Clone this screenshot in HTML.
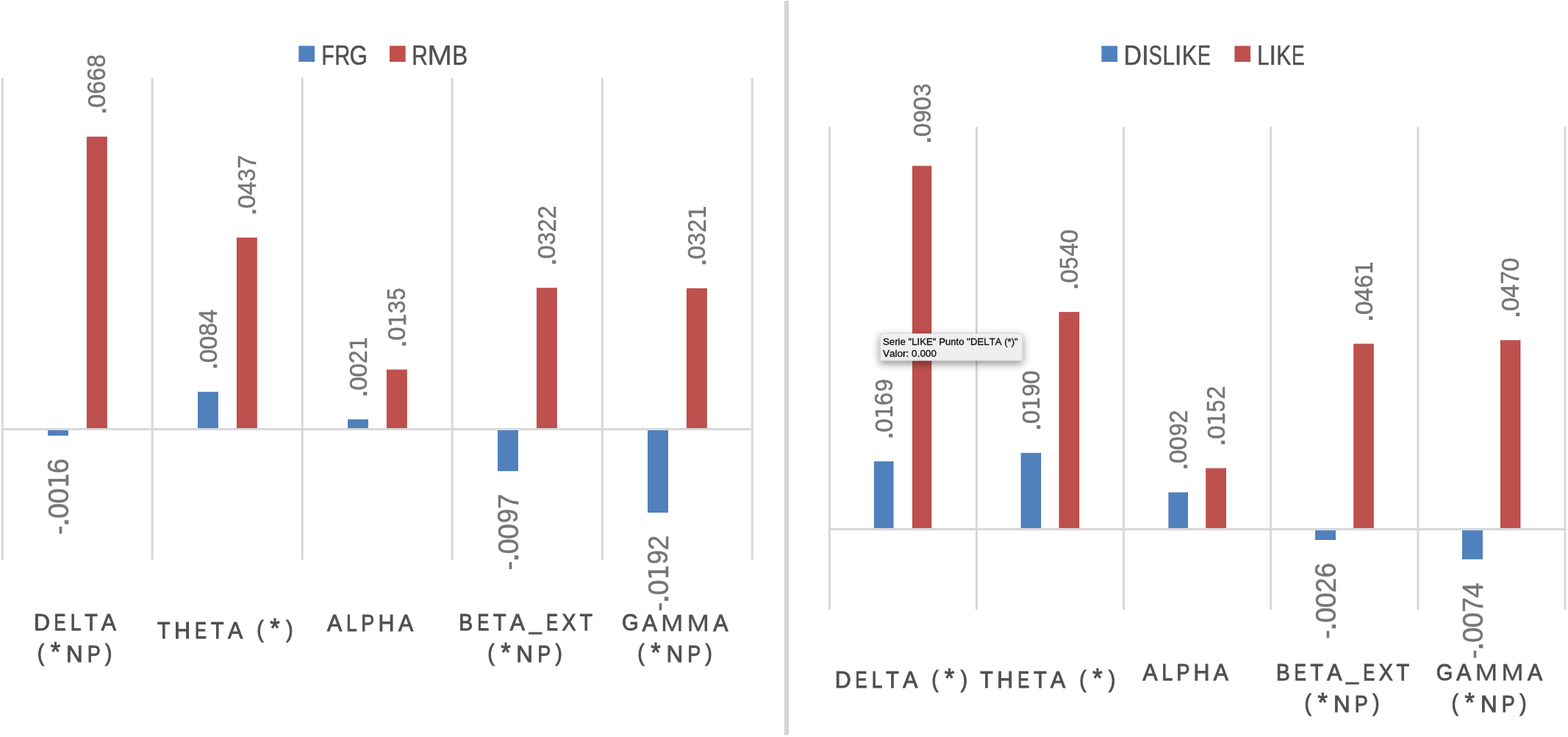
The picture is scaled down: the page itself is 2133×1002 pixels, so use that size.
<!DOCTYPE html><html><head><meta charset="utf-8"><title>Chart</title><style>html,body{margin:0;padding:0;background:#fff;overflow:hidden}svg{display:block}text{font-family:"Liberation Sans",Arial,sans-serif;white-space:pre;font-kerning:none;font-feature-settings:"kern" 0}</style></head><body>
<svg width="2133" height="1002" viewBox="0 0 2133 1002">
<rect x="0" y="0" width="2133" height="1002" fill="#fff"/>
<rect x="1.7" y="106" width="3" height="655" fill="#d8d8d8"/>
<rect x="205.7" y="106" width="3" height="655" fill="#d8d8d8"/>
<rect x="409.7" y="106" width="3" height="655" fill="#d8d8d8"/>
<rect x="613.7" y="106" width="3" height="655" fill="#d8d8d8"/>
<rect x="817.7" y="106" width="3" height="655" fill="#d8d8d8"/>
<rect x="1021.7" y="106" width="3" height="655" fill="#d8d8d8"/>
<rect x="65" y="582.63" width="27.6" height="9.51" fill="#5081bc"/>
<rect x="91.6" y="582.63" width="1" height="9.51" fill="#4574b3"/>
<rect x="65" y="591.14" width="27.6" height="1" fill="#4574b3"/>
<rect x="117.9" y="185.78" width="27.6" height="396.85" fill="#be504d"/>
<rect x="144.5" y="185.78" width="1" height="396.85" fill="#b4423f"/>
<rect x="117.9" y="581.63" width="27.6" height="1" fill="#b4423f"/>
<rect x="269" y="532.73" width="27.6" height="49.9" fill="#5081bc"/>
<rect x="295.6" y="532.73" width="1" height="49.9" fill="#4574b3"/>
<rect x="269" y="581.63" width="27.6" height="1" fill="#4574b3"/>
<rect x="321.9" y="323.01" width="27.6" height="259.62" fill="#be504d"/>
<rect x="348.5" y="323.01" width="1" height="259.62" fill="#b4423f"/>
<rect x="321.9" y="581.63" width="27.6" height="1" fill="#b4423f"/>
<rect x="473" y="570.15" width="27.6" height="12.48" fill="#5081bc"/>
<rect x="499.6" y="570.15" width="1" height="12.48" fill="#4574b3"/>
<rect x="473" y="581.63" width="27.6" height="1" fill="#4574b3"/>
<rect x="525.9" y="502.43" width="27.6" height="80.2" fill="#be504d"/>
<rect x="552.5" y="502.43" width="1" height="80.2" fill="#b4423f"/>
<rect x="525.9" y="581.63" width="27.6" height="1" fill="#b4423f"/>
<rect x="677" y="582.63" width="27.6" height="57.63" fill="#5081bc"/>
<rect x="703.6" y="582.63" width="1" height="57.63" fill="#4574b3"/>
<rect x="677" y="639.26" width="27.6" height="1" fill="#4574b3"/>
<rect x="729.9" y="391.33" width="27.6" height="191.3" fill="#be504d"/>
<rect x="756.5" y="391.33" width="1" height="191.3" fill="#b4423f"/>
<rect x="729.9" y="581.63" width="27.6" height="1" fill="#b4423f"/>
<rect x="881" y="582.63" width="27.6" height="114.07" fill="#5081bc"/>
<rect x="907.6" y="582.63" width="1" height="114.07" fill="#4574b3"/>
<rect x="881" y="695.7" width="27.6" height="1" fill="#4574b3"/>
<rect x="933.9" y="391.93" width="27.6" height="190.7" fill="#be504d"/>
<rect x="960.5" y="391.93" width="1" height="190.7" fill="#b4423f"/>
<rect x="933.9" y="581.63" width="27.6" height="1" fill="#b4423f"/>
<rect x="1.7" y="582" width="1023" height="3" fill="#d8d8d8"/>
<text transform="translate(92.67,725.52) rotate(-90)" font-size="38.54" fill="#767676" stroke="#767676" stroke-width="0.5"><tspan x="-1.53" y="0.21" font-size="38.49" textLength="12.39" lengthAdjust="spacingAndGlyphs">-</tspan><tspan x="9.14" y="0.32" font-size="46.81" textLength="13.35" lengthAdjust="spacingAndGlyphs">.</tspan><tspan x="20.57" y="-0.09" font-size="38.28" textLength="20.89" lengthAdjust="spacingAndGlyphs">0</tspan><tspan x="40.85" y="-0.09" font-size="38.28" textLength="20.89" lengthAdjust="spacingAndGlyphs">0</tspan><tspan x="61.27" y="0" font-size="36.49" font-family="DejaVu Sans, sans-serif" textLength="21.65" lengthAdjust="spacingAndGlyphs">1</tspan><tspan x="81.77" y="-0.09" font-size="39.85" textLength="20.30" lengthAdjust="spacingAndGlyphs">6</tspan></text>
<text transform="translate(143.51,152.78) rotate(-90)" font-size="34.3" fill="#767676" stroke="#767676" stroke-width="0.5"><tspan x="-3.75" y="0.29" font-size="41.66" textLength="11.80" lengthAdjust="spacingAndGlyphs">.</tspan><tspan x="6.4" y="-0.08" font-size="34.07" textLength="18.56" lengthAdjust="spacingAndGlyphs">0</tspan><tspan x="24.78" y="-0.08" font-size="35.47" textLength="18.03" lengthAdjust="spacingAndGlyphs">6</tspan><tspan x="42.82" y="-0.08" font-size="35.47" textLength="18.03" lengthAdjust="spacingAndGlyphs">6</tspan><tspan x="60.95" y="-0.08" font-size="35.87" textLength="17.71" lengthAdjust="spacingAndGlyphs">8</tspan></text>
<text transform="translate(294.61,499.73) rotate(-90)" font-size="34.3" fill="#767676" stroke="#767676" stroke-width="0.5"><tspan x="-3.75" y="0.29" font-size="41.66" textLength="11.80" lengthAdjust="spacingAndGlyphs">.</tspan><tspan x="6.4" y="-0.08" font-size="34.07" textLength="18.56" lengthAdjust="spacingAndGlyphs">0</tspan><tspan x="24.44" y="-0.08" font-size="34.07" textLength="18.56" lengthAdjust="spacingAndGlyphs">0</tspan><tspan x="42.91" y="-0.08" font-size="35.87" textLength="17.71" lengthAdjust="spacingAndGlyphs">8</tspan><tspan x="60.77" y="0" textLength="18.31" lengthAdjust="spacingAndGlyphs">4</tspan></text>
<text transform="translate(347.51,290.01) rotate(-90)" font-size="34.3" fill="#767676" stroke="#767676" stroke-width="0.5"><tspan x="-3.75" y="0.29" font-size="41.66" textLength="11.80" lengthAdjust="spacingAndGlyphs">.</tspan><tspan x="6.4" y="-0.08" font-size="34.07" textLength="18.56" lengthAdjust="spacingAndGlyphs">0</tspan><tspan x="24.68" y="0" textLength="18.31" lengthAdjust="spacingAndGlyphs">4</tspan><tspan x="43.33" y="-0.08" font-size="34.07" textLength="17.34" lengthAdjust="spacingAndGlyphs">3</tspan><tspan x="60.93" y="0" textLength="18.28" lengthAdjust="spacingAndGlyphs">7</tspan></text>
<text transform="translate(498.61,537.15) rotate(-90)" font-size="34.3" fill="#767676" stroke="#767676" stroke-width="0.5"><tspan x="-3.75" y="0.29" font-size="41.66" textLength="11.80" lengthAdjust="spacingAndGlyphs">.</tspan><tspan x="6.4" y="-0.08" font-size="34.07" textLength="18.56" lengthAdjust="spacingAndGlyphs">0</tspan><tspan x="24.44" y="-0.08" font-size="34.07" textLength="18.56" lengthAdjust="spacingAndGlyphs">0</tspan><tspan x="42.85" y="0" font-size="34.19" textLength="17.92" lengthAdjust="spacingAndGlyphs">2</tspan><tspan x="60.67" y="0" font-size="32.47" font-family="DejaVu Sans, sans-serif" textLength="19.23" lengthAdjust="spacingAndGlyphs">1</tspan></text>
<text transform="translate(551.51,469.43) rotate(-90)" font-size="34.3" fill="#767676" stroke="#767676" stroke-width="0.5"><tspan x="-3.75" y="0.29" font-size="41.66" textLength="11.80" lengthAdjust="spacingAndGlyphs">.</tspan><tspan x="6.4" y="-0.08" font-size="34.07" textLength="18.56" lengthAdjust="spacingAndGlyphs">0</tspan><tspan x="24.58" y="0" font-size="32.47" font-family="DejaVu Sans, sans-serif" textLength="19.23" lengthAdjust="spacingAndGlyphs">1</tspan><tspan x="43.33" y="-0.08" font-size="34.07" textLength="17.34" lengthAdjust="spacingAndGlyphs">3</tspan><tspan x="61.34" y="-0.08" font-size="34.19" textLength="16.51" lengthAdjust="spacingAndGlyphs">5</tspan></text>
<text transform="translate(704.67,773.74) rotate(-90)" font-size="38.54" fill="#767676" stroke="#767676" stroke-width="0.5"><tspan x="-1.53" y="0.21" font-size="38.49" textLength="12.39" lengthAdjust="spacingAndGlyphs">-</tspan><tspan x="9.14" y="0.32" font-size="46.81" textLength="13.35" lengthAdjust="spacingAndGlyphs">.</tspan><tspan x="20.57" y="-0.09" font-size="38.28" textLength="20.89" lengthAdjust="spacingAndGlyphs">0</tspan><tspan x="40.85" y="-0.09" font-size="38.28" textLength="20.89" lengthAdjust="spacingAndGlyphs">0</tspan><tspan x="62.48" y="-0.37" font-size="37.88" textLength="19.38" lengthAdjust="spacingAndGlyphs">9</tspan><tspan x="81.84" y="0" textLength="20.58" lengthAdjust="spacingAndGlyphs">7</tspan></text>
<text transform="translate(755.51,358.33) rotate(-90)" font-size="34.3" fill="#767676" stroke="#767676" stroke-width="0.5"><tspan x="-3.75" y="0.29" font-size="41.66" textLength="11.80" lengthAdjust="spacingAndGlyphs">.</tspan><tspan x="6.4" y="-0.08" font-size="34.07" textLength="18.56" lengthAdjust="spacingAndGlyphs">0</tspan><tspan x="25.29" y="-0.08" font-size="34.07" textLength="17.34" lengthAdjust="spacingAndGlyphs">3</tspan><tspan x="42.85" y="0" font-size="34.19" textLength="17.92" lengthAdjust="spacingAndGlyphs">2</tspan><tspan x="60.89" y="0" font-size="34.19" textLength="17.92" lengthAdjust="spacingAndGlyphs">2</tspan></text>
<text transform="translate(908.67,829.77) rotate(-90)" font-size="38.54" fill="#767676" stroke="#767676" stroke-width="0.5"><tspan x="-1.53" y="0.21" font-size="38.49" textLength="12.39" lengthAdjust="spacingAndGlyphs">-</tspan><tspan x="9.14" y="0.32" font-size="46.81" textLength="13.35" lengthAdjust="spacingAndGlyphs">.</tspan><tspan x="20.57" y="-0.09" font-size="38.28" textLength="20.89" lengthAdjust="spacingAndGlyphs">0</tspan><tspan x="41" y="0" font-size="36.49" font-family="DejaVu Sans, sans-serif" textLength="21.65" lengthAdjust="spacingAndGlyphs">1</tspan><tspan x="62.48" y="-0.37" font-size="37.88" textLength="19.38" lengthAdjust="spacingAndGlyphs">9</tspan><tspan x="81.8" y="0" font-size="38.41" textLength="20.18" lengthAdjust="spacingAndGlyphs">2</tspan></text>
<text transform="translate(959.51,358.93) rotate(-90)" font-size="34.3" fill="#767676" stroke="#767676" stroke-width="0.5"><tspan x="-3.75" y="0.29" font-size="41.66" textLength="11.80" lengthAdjust="spacingAndGlyphs">.</tspan><tspan x="6.4" y="-0.08" font-size="34.07" textLength="18.56" lengthAdjust="spacingAndGlyphs">0</tspan><tspan x="25.29" y="-0.08" font-size="34.07" textLength="17.34" lengthAdjust="spacingAndGlyphs">3</tspan><tspan x="42.85" y="0" font-size="34.19" textLength="17.92" lengthAdjust="spacingAndGlyphs">2</tspan><tspan x="60.67" y="0" font-size="32.47" font-family="DejaVu Sans, sans-serif" textLength="19.23" lengthAdjust="spacingAndGlyphs">1</tspan></text>
<rect x="1126.9" y="172.3" width="3" height="656.7" fill="#d8d8d8"/>
<rect x="1327.02" y="172.3" width="3" height="656.7" fill="#d8d8d8"/>
<rect x="1527.14" y="172.3" width="3" height="656.7" fill="#d8d8d8"/>
<rect x="1727.26" y="172.3" width="3" height="656.7" fill="#d8d8d8"/>
<rect x="1927.38" y="172.3" width="3" height="656.7" fill="#d8d8d8"/>
<rect x="2127.5" y="172.3" width="3" height="656.7" fill="#d8d8d8"/>
<rect x="1188.9" y="627.2" width="26.4" height="92.5" fill="#5081bc"/>
<rect x="1214.3" y="627.2" width="1" height="92.5" fill="#4574b3"/>
<rect x="1188.9" y="718.7" width="26.4" height="1" fill="#4574b3"/>
<rect x="1240.95" y="225.46" width="26.15" height="494.24" fill="#be504d"/>
<rect x="1266.1" y="225.46" width="1" height="494.24" fill="#b4423f"/>
<rect x="1240.95" y="718.7" width="26.15" height="1" fill="#b4423f"/>
<rect x="1388.7" y="615.71" width="27.4" height="103.99" fill="#5081bc"/>
<rect x="1415.1" y="615.71" width="1" height="103.99" fill="#4574b3"/>
<rect x="1388.7" y="718.7" width="27.4" height="1" fill="#4574b3"/>
<rect x="1440.5" y="424.14" width="27.6" height="295.56" fill="#be504d"/>
<rect x="1467.1" y="424.14" width="1" height="295.56" fill="#b4423f"/>
<rect x="1440.5" y="718.7" width="27.6" height="1" fill="#b4423f"/>
<rect x="1589.4" y="669.35" width="26.6" height="50.35" fill="#5081bc"/>
<rect x="1615" y="669.35" width="1" height="50.35" fill="#4574b3"/>
<rect x="1589.4" y="718.7" width="26.6" height="1" fill="#4574b3"/>
<rect x="1640.2" y="636.51" width="27.6" height="83.19" fill="#be504d"/>
<rect x="1666.8" y="636.51" width="1" height="83.19" fill="#b4423f"/>
<rect x="1640.2" y="718.7" width="27.6" height="1" fill="#b4423f"/>
<rect x="1789.1" y="719.7" width="27.7" height="14.23" fill="#5081bc"/>
<rect x="1815.8" y="719.7" width="1" height="14.23" fill="#4574b3"/>
<rect x="1789.1" y="732.93" width="27.7" height="1" fill="#4574b3"/>
<rect x="1841.2" y="467.38" width="27.3" height="252.32" fill="#be504d"/>
<rect x="1867.5" y="467.38" width="1" height="252.32" fill="#b4423f"/>
<rect x="1841.2" y="718.7" width="27.3" height="1" fill="#b4423f"/>
<rect x="1989" y="719.7" width="27.7" height="40.5" fill="#5081bc"/>
<rect x="2015.7" y="719.7" width="1" height="40.5" fill="#4574b3"/>
<rect x="1989" y="759.2" width="27.7" height="1" fill="#4574b3"/>
<rect x="2040.9" y="462.45" width="27.3" height="257.25" fill="#be504d"/>
<rect x="2067.2" y="462.45" width="1" height="257.25" fill="#b4423f"/>
<rect x="2040.9" y="718.7" width="27.3" height="1" fill="#b4423f"/>
<rect x="1126.9" y="717.9" width="1003.6" height="3.2" fill="#d8d8d8"/>
<text transform="translate(1213.91,594.2) rotate(-90)" font-size="34.3" fill="#767676" stroke="#767676" stroke-width="0.5"><tspan x="-3.75" y="0.29" font-size="41.66" textLength="11.80" lengthAdjust="spacingAndGlyphs">.</tspan><tspan x="6.4" y="-0.08" font-size="34.07" textLength="18.56" lengthAdjust="spacingAndGlyphs">0</tspan><tspan x="24.58" y="0" font-size="32.47" font-family="DejaVu Sans, sans-serif" textLength="19.23" lengthAdjust="spacingAndGlyphs">1</tspan><tspan x="42.82" y="-0.08" font-size="35.47" textLength="18.03" lengthAdjust="spacingAndGlyphs">6</tspan><tspan x="61.74" y="-0.33" font-size="33.72" textLength="17.22" lengthAdjust="spacingAndGlyphs">9</tspan></text>
<text transform="translate(1265.83,192.46) rotate(-90)" font-size="34.3" fill="#767676" stroke="#767676" stroke-width="0.5"><tspan x="-3.75" y="0.29" font-size="41.66" textLength="11.80" lengthAdjust="spacingAndGlyphs">.</tspan><tspan x="6.4" y="-0.08" font-size="34.07" textLength="18.56" lengthAdjust="spacingAndGlyphs">0</tspan><tspan x="25.65" y="-0.33" font-size="33.72" textLength="17.22" lengthAdjust="spacingAndGlyphs">9</tspan><tspan x="42.49" y="-0.08" font-size="34.07" textLength="18.56" lengthAdjust="spacingAndGlyphs">0</tspan><tspan x="61.38" y="-0.08" font-size="34.07" textLength="17.34" lengthAdjust="spacingAndGlyphs">3</tspan></text>
<text transform="translate(1414.21,582.71) rotate(-90)" font-size="34.3" fill="#767676" stroke="#767676" stroke-width="0.5"><tspan x="-3.75" y="0.29" font-size="41.66" textLength="11.80" lengthAdjust="spacingAndGlyphs">.</tspan><tspan x="6.4" y="-0.08" font-size="34.07" textLength="18.56" lengthAdjust="spacingAndGlyphs">0</tspan><tspan x="24.58" y="0" font-size="32.47" font-family="DejaVu Sans, sans-serif" textLength="19.23" lengthAdjust="spacingAndGlyphs">1</tspan><tspan x="43.7" y="-0.33" font-size="33.72" textLength="17.22" lengthAdjust="spacingAndGlyphs">9</tspan><tspan x="60.53" y="-0.08" font-size="34.07" textLength="18.56" lengthAdjust="spacingAndGlyphs">0</tspan></text>
<text transform="translate(1466.11,391.14) rotate(-90)" font-size="34.3" fill="#767676" stroke="#767676" stroke-width="0.5"><tspan x="-3.75" y="0.29" font-size="41.66" textLength="11.80" lengthAdjust="spacingAndGlyphs">.</tspan><tspan x="6.4" y="-0.08" font-size="34.07" textLength="18.56" lengthAdjust="spacingAndGlyphs">0</tspan><tspan x="25.25" y="-0.08" font-size="34.19" textLength="16.51" lengthAdjust="spacingAndGlyphs">5</tspan><tspan x="42.72" y="0" textLength="18.31" lengthAdjust="spacingAndGlyphs">4</tspan><tspan x="60.53" y="-0.08" font-size="34.07" textLength="18.56" lengthAdjust="spacingAndGlyphs">0</tspan></text>
<text transform="translate(1614.51,636.35) rotate(-90)" font-size="34.3" fill="#767676" stroke="#767676" stroke-width="0.5"><tspan x="-3.75" y="0.29" font-size="41.66" textLength="11.80" lengthAdjust="spacingAndGlyphs">.</tspan><tspan x="6.4" y="-0.08" font-size="34.07" textLength="18.56" lengthAdjust="spacingAndGlyphs">0</tspan><tspan x="24.44" y="-0.08" font-size="34.07" textLength="18.56" lengthAdjust="spacingAndGlyphs">0</tspan><tspan x="43.7" y="-0.33" font-size="33.72" textLength="17.22" lengthAdjust="spacingAndGlyphs">9</tspan><tspan x="60.89" y="0" font-size="34.19" textLength="17.92" lengthAdjust="spacingAndGlyphs">2</tspan></text>
<text transform="translate(1665.81,603.51) rotate(-90)" font-size="34.3" fill="#767676" stroke="#767676" stroke-width="0.5"><tspan x="-3.75" y="0.29" font-size="41.66" textLength="11.80" lengthAdjust="spacingAndGlyphs">.</tspan><tspan x="6.4" y="-0.08" font-size="34.07" textLength="18.56" lengthAdjust="spacingAndGlyphs">0</tspan><tspan x="24.58" y="0" font-size="32.47" font-family="DejaVu Sans, sans-serif" textLength="19.23" lengthAdjust="spacingAndGlyphs">1</tspan><tspan x="43.3" y="-0.08" font-size="34.19" textLength="16.51" lengthAdjust="spacingAndGlyphs">5</tspan><tspan x="60.89" y="0" font-size="34.19" textLength="17.92" lengthAdjust="spacingAndGlyphs">2</tspan></text>
<text transform="translate(1816.82,867.32) rotate(-90)" font-size="38.54" fill="#767676" stroke="#767676" stroke-width="0.5"><tspan x="-1.53" y="0.21" font-size="38.49" textLength="12.39" lengthAdjust="spacingAndGlyphs">-</tspan><tspan x="9.14" y="0.32" font-size="46.81" textLength="13.35" lengthAdjust="spacingAndGlyphs">.</tspan><tspan x="20.57" y="-0.09" font-size="38.28" textLength="20.89" lengthAdjust="spacingAndGlyphs">0</tspan><tspan x="40.85" y="-0.09" font-size="38.28" textLength="20.89" lengthAdjust="spacingAndGlyphs">0</tspan><tspan x="61.52" y="0" font-size="38.41" textLength="20.18" lengthAdjust="spacingAndGlyphs">2</tspan><tspan x="81.77" y="-0.09" font-size="39.85" textLength="20.30" lengthAdjust="spacingAndGlyphs">6</tspan></text>
<text transform="translate(1866.66,434.38) rotate(-90)" font-size="34.3" fill="#767676" stroke="#767676" stroke-width="0.5"><tspan x="-3.75" y="0.29" font-size="41.66" textLength="11.80" lengthAdjust="spacingAndGlyphs">.</tspan><tspan x="6.4" y="-0.08" font-size="34.07" textLength="18.56" lengthAdjust="spacingAndGlyphs">0</tspan><tspan x="24.68" y="0" textLength="18.31" lengthAdjust="spacingAndGlyphs">4</tspan><tspan x="42.82" y="-0.08" font-size="35.47" textLength="18.03" lengthAdjust="spacingAndGlyphs">6</tspan><tspan x="60.67" y="0" font-size="32.47" font-family="DejaVu Sans, sans-serif" textLength="19.23" lengthAdjust="spacingAndGlyphs">1</tspan></text>
<text transform="translate(2016.72,894.31) rotate(-90)" font-size="38.54" fill="#767676" stroke="#767676" stroke-width="0.5"><tspan x="-1.53" y="0.21" font-size="38.49" textLength="12.39" lengthAdjust="spacingAndGlyphs">-</tspan><tspan x="9.14" y="0.32" font-size="46.81" textLength="13.35" lengthAdjust="spacingAndGlyphs">.</tspan><tspan x="20.57" y="-0.09" font-size="38.28" textLength="20.89" lengthAdjust="spacingAndGlyphs">0</tspan><tspan x="40.85" y="-0.09" font-size="38.28" textLength="20.89" lengthAdjust="spacingAndGlyphs">0</tspan><tspan x="61.57" y="0" textLength="20.58" lengthAdjust="spacingAndGlyphs">7</tspan><tspan x="81.66" y="0" textLength="20.61" lengthAdjust="spacingAndGlyphs">4</tspan></text>
<text transform="translate(2066.36,429.45) rotate(-90)" font-size="34.3" fill="#767676" stroke="#767676" stroke-width="0.5"><tspan x="-3.75" y="0.29" font-size="41.66" textLength="11.80" lengthAdjust="spacingAndGlyphs">.</tspan><tspan x="6.4" y="-0.08" font-size="34.07" textLength="18.56" lengthAdjust="spacingAndGlyphs">0</tspan><tspan x="24.68" y="0" textLength="18.31" lengthAdjust="spacingAndGlyphs">4</tspan><tspan x="42.89" y="0" textLength="18.28" lengthAdjust="spacingAndGlyphs">7</tspan><tspan x="60.53" y="-0.08" font-size="34.07" textLength="18.56" lengthAdjust="spacingAndGlyphs">0</tspan></text>
<rect x="1066.8" y="1" width="6.3" height="998.3" fill="#d6d6d6"/>
<rect x="406.3" y="62.3" width="21.7" height="21.7" fill="#5081bc"/>
<rect x="530.0" y="62.3" width="21.7" height="21.7" fill="#be504d"/>
<rect x="1498.4" y="62.4" width="21.7" height="21.7" fill="#5081bc"/>
<rect x="1679.4" y="62.4" width="21.7" height="21.7" fill="#be504d"/>
<text font-size="36.4" fill="#505050" stroke="#505050" stroke-width="0.5"><tspan x="437.42" y="88" textLength="17.17" lengthAdjust="spacingAndGlyphs">F</tspan><tspan x="455.2" y="88" textLength="21.08" lengthAdjust="spacingAndGlyphs">R</tspan><tspan x="475.6" y="87.91" font-size="36.15" textLength="24.53" lengthAdjust="spacingAndGlyphs">G</tspan></text>
<text font-size="36.4" fill="#505050" stroke="#505050" stroke-width="0.5"><tspan x="560.27" y="88" textLength="21.64" lengthAdjust="spacingAndGlyphs">R</tspan><tspan x="581.24" y="88" stroke-width="0.3" textLength="33.73" lengthAdjust="spacingAndGlyphs">M</tspan><tspan x="615.32" y="88" textLength="21.01" lengthAdjust="spacingAndGlyphs">B</tspan></text>
<text font-size="36.4" fill="#505050" stroke="#505050" stroke-width="0.5"><tspan x="1528.54" y="88.1" textLength="24.54" lengthAdjust="spacingAndGlyphs">D</tspan><tspan x="1553.01" y="88.1" textLength="9.75" lengthAdjust="spacingAndGlyphs">I</tspan><tspan x="1562.84" y="88.01" font-size="36.15" textLength="17.96" lengthAdjust="spacingAndGlyphs">S</tspan><tspan x="1581.44" y="88.1" textLength="16.50" lengthAdjust="spacingAndGlyphs">L</tspan><tspan x="1597.86" y="88.1" textLength="9.75" lengthAdjust="spacingAndGlyphs">I</tspan><tspan x="1607.73" y="88.1" textLength="20.52" lengthAdjust="spacingAndGlyphs">K</tspan><tspan x="1629.03" y="88.1" textLength="18.00" lengthAdjust="spacingAndGlyphs">E</tspan></text>
<text font-size="36.4" fill="#505050" stroke="#505050" stroke-width="0.5"><tspan x="1710.33" y="88.1" textLength="16.22" lengthAdjust="spacingAndGlyphs">L</tspan><tspan x="1726.48" y="88.1" textLength="9.57" lengthAdjust="spacingAndGlyphs">I</tspan><tspan x="1736.17" y="88.1" textLength="20.17" lengthAdjust="spacingAndGlyphs">K</tspan><tspan x="1757.12" y="88.1" textLength="17.70" lengthAdjust="spacingAndGlyphs">E</tspan></text>
<text font-size="32.0" fill="#505050" stroke="#505050" stroke-width="1.0"><tspan x="45.96" y="857.1" textLength="21.96" lengthAdjust="spacingAndGlyphs">D</tspan><tspan x="73.57" y="857.1" textLength="16.02" lengthAdjust="spacingAndGlyphs">E</tspan><tspan x="95.66" y="857.1" textLength="14.65" lengthAdjust="spacingAndGlyphs">L</tspan><tspan x="115.15" y="857.1" textLength="17.50" lengthAdjust="spacingAndGlyphs">T</tspan><tspan x="137.82" y="857.1" textLength="20.18" lengthAdjust="spacingAndGlyphs">A</tspan></text>
<text font-size="32.0" fill="#505050" stroke="#505050" stroke-width="1.0"><tspan x="50.86" y="897.73" textLength="9.39" lengthAdjust="spacingAndGlyphs">(</tspan><tspan x="68.77" y="899.46" font-size="37.11" textLength="13.43" lengthAdjust="spacingAndGlyphs">*</tspan><tspan x="89.92" y="899.6" textLength="22.67" lengthAdjust="spacingAndGlyphs">N</tspan><tspan x="118.67" y="899.6" textLength="18.03" lengthAdjust="spacingAndGlyphs">P</tspan><tspan x="142.96" y="897.72" textLength="9.39" lengthAdjust="spacingAndGlyphs">)</tspan></text>
<text font-size="32.0" fill="#505050" stroke="#505050" stroke-width="1.0"><tspan x="214.01" y="867.5" textLength="17.50" lengthAdjust="spacingAndGlyphs">T</tspan><tspan x="236.88" y="867.5" textLength="21.99" lengthAdjust="spacingAndGlyphs">H</tspan><tspan x="265.06" y="867.5" textLength="16.02" lengthAdjust="spacingAndGlyphs">E</tspan><tspan x="286.98" y="867.5" textLength="17.50" lengthAdjust="spacingAndGlyphs">T</tspan><tspan x="309.97" y="867.5" textLength="20.18" lengthAdjust="spacingAndGlyphs">A</tspan> <tspan x="349.28" y="865.63" textLength="9.39" lengthAdjust="spacingAndGlyphs">(</tspan><tspan x="367.17" y="867.36" font-size="37.11" textLength="13.43" lengthAdjust="spacingAndGlyphs">*</tspan><tspan x="389.16" y="865.62" textLength="9.39" lengthAdjust="spacingAndGlyphs">)</tspan></text>
<text font-size="32.0" fill="#505050" stroke="#505050" stroke-width="1.0"><tspan x="445.04" y="857.5" textLength="20.18" lengthAdjust="spacingAndGlyphs">A</tspan><tspan x="471.08" y="857.5" textLength="14.65" lengthAdjust="spacingAndGlyphs">L</tspan><tspan x="491.34" y="857.5" textLength="18.03" lengthAdjust="spacingAndGlyphs">P</tspan><tspan x="514.55" y="857.5" textLength="21.99" lengthAdjust="spacingAndGlyphs">H</tspan><tspan x="542.12" y="857.5" textLength="20.18" lengthAdjust="spacingAndGlyphs">A</tspan></text>
<text font-size="32.0" fill="#505050" stroke="#505050" stroke-width="1.0"><tspan x="624.34" y="857.3" textLength="18.80" lengthAdjust="spacingAndGlyphs">B</tspan><tspan x="649.25" y="857.3" textLength="16.02" lengthAdjust="spacingAndGlyphs">E</tspan><tspan x="671" y="857.3" textLength="17.50" lengthAdjust="spacingAndGlyphs">T</tspan><tspan x="693.81" y="857.3" textLength="20.18" lengthAdjust="spacingAndGlyphs">A</tspan><tspan x="719.98" y="855.77" font-size="30.88" textLength="16.64" lengthAdjust="spacingAndGlyphs">_</tspan><tspan x="743.01" y="857.3" textLength="16.02" lengthAdjust="spacingAndGlyphs">E</tspan><tspan x="764.53" y="857.3" textLength="19.04" lengthAdjust="spacingAndGlyphs">X</tspan><tspan x="788.41" y="857.3" textLength="17.50" lengthAdjust="spacingAndGlyphs">T</tspan></text>
<text font-size="32.0" fill="#505050" stroke="#505050" stroke-width="1.0"><tspan x="663.16" y="897.98" textLength="9.39" lengthAdjust="spacingAndGlyphs">(</tspan><tspan x="681.15" y="899.71" font-size="37.11" textLength="13.43" lengthAdjust="spacingAndGlyphs">*</tspan><tspan x="702.37" y="899.85" textLength="22.67" lengthAdjust="spacingAndGlyphs">N</tspan><tspan x="731.2" y="899.85" textLength="18.03" lengthAdjust="spacingAndGlyphs">P</tspan><tspan x="755.56" y="897.97" textLength="9.39" lengthAdjust="spacingAndGlyphs">)</tspan></text>
<text font-size="32.0" fill="#505050" stroke="#505050" stroke-width="1.0"><tspan x="845.99" y="857.42" font-size="31.78" textLength="22.61" lengthAdjust="spacingAndGlyphs">G</tspan><tspan x="873.64" y="857.5" textLength="20.18" lengthAdjust="spacingAndGlyphs">A</tspan><tspan x="899.08" y="857.5" stroke-width="0.3" textLength="30.39" lengthAdjust="spacingAndGlyphs">M</tspan><tspan x="934.61" y="857.5" stroke-width="0.3" textLength="30.39" lengthAdjust="spacingAndGlyphs">M</tspan><tspan x="970.27" y="857.5" textLength="20.18" lengthAdjust="spacingAndGlyphs">A</tspan></text>
<text font-size="32.0" fill="#505050" stroke="#505050" stroke-width="1.0"><tspan x="867.36" y="897.98" textLength="9.39" lengthAdjust="spacingAndGlyphs">(</tspan><tspan x="885.27" y="899.71" font-size="37.11" textLength="13.43" lengthAdjust="spacingAndGlyphs">*</tspan><tspan x="906.42" y="899.85" textLength="22.67" lengthAdjust="spacingAndGlyphs">N</tspan><tspan x="935.17" y="899.85" textLength="18.03" lengthAdjust="spacingAndGlyphs">P</tspan><tspan x="959.46" y="897.97" textLength="9.39" lengthAdjust="spacingAndGlyphs">)</tspan></text>
<text font-size="32.0" fill="#505050" stroke="#505050" stroke-width="1.0"><tspan x="1135.76" y="935.4" textLength="21.96" lengthAdjust="spacingAndGlyphs">D</tspan><tspan x="1163.5" y="935.4" textLength="16.02" lengthAdjust="spacingAndGlyphs">E</tspan><tspan x="1185.74" y="935.4" textLength="14.65" lengthAdjust="spacingAndGlyphs">L</tspan><tspan x="1205.35" y="935.4" textLength="17.50" lengthAdjust="spacingAndGlyphs">T</tspan><tspan x="1228.17" y="935.4" textLength="20.18" lengthAdjust="spacingAndGlyphs">A</tspan> <tspan x="1267.13" y="933.53" textLength="9.39" lengthAdjust="spacingAndGlyphs">(</tspan><tspan x="1284.85" y="935.26" font-size="37.11" textLength="13.43" lengthAdjust="spacingAndGlyphs">*</tspan><tspan x="1306.66" y="933.52" textLength="9.39" lengthAdjust="spacingAndGlyphs">)</tspan></text>
<text font-size="32.0" fill="#505050" stroke="#505050" stroke-width="1.0"><tspan x="1333.36" y="935.4" textLength="17.50" lengthAdjust="spacingAndGlyphs">T</tspan><tspan x="1356.17" y="935.4" textLength="21.99" lengthAdjust="spacingAndGlyphs">H</tspan><tspan x="1384.3" y="935.4" textLength="16.02" lengthAdjust="spacingAndGlyphs">E</tspan><tspan x="1406.16" y="935.4" textLength="17.50" lengthAdjust="spacingAndGlyphs">T</tspan><tspan x="1429.1" y="935.4" textLength="20.18" lengthAdjust="spacingAndGlyphs">A</tspan> <tspan x="1468.3" y="933.53" textLength="9.39" lengthAdjust="spacingAndGlyphs">(</tspan><tspan x="1486.13" y="935.26" font-size="37.11" textLength="13.43" lengthAdjust="spacingAndGlyphs">*</tspan><tspan x="1508.06" y="933.52" textLength="9.39" lengthAdjust="spacingAndGlyphs">)</tspan></text>
<text font-size="32.0" fill="#505050" stroke="#505050" stroke-width="1.0"><tspan x="1554.59" y="925.25" textLength="20.18" lengthAdjust="spacingAndGlyphs">A</tspan><tspan x="1580.39" y="925.25" textLength="14.65" lengthAdjust="spacingAndGlyphs">L</tspan><tspan x="1600.41" y="925.25" textLength="18.03" lengthAdjust="spacingAndGlyphs">P</tspan><tspan x="1623.39" y="925.25" textLength="21.99" lengthAdjust="spacingAndGlyphs">H</tspan><tspan x="1650.72" y="925.25" textLength="20.18" lengthAdjust="spacingAndGlyphs">A</tspan></text>
<text font-size="32.0" fill="#505050" stroke="#505050" stroke-width="1.0"><tspan x="1735.94" y="925.25" textLength="18.80" lengthAdjust="spacingAndGlyphs">B</tspan><tspan x="1760.78" y="925.25" textLength="16.02" lengthAdjust="spacingAndGlyphs">E</tspan><tspan x="1782.45" y="925.25" textLength="17.50" lengthAdjust="spacingAndGlyphs">T</tspan><tspan x="1805.2" y="925.25" textLength="20.18" lengthAdjust="spacingAndGlyphs">A</tspan><tspan x="1831.3" y="923.72" font-size="30.88" textLength="16.64" lengthAdjust="spacingAndGlyphs">_</tspan><tspan x="1854.25" y="925.25" textLength="16.02" lengthAdjust="spacingAndGlyphs">E</tspan><tspan x="1875.7" y="925.25" textLength="19.04" lengthAdjust="spacingAndGlyphs">X</tspan><tspan x="1899.51" y="925.25" textLength="17.50" lengthAdjust="spacingAndGlyphs">T</tspan></text>
<text font-size="32.0" fill="#505050" stroke="#505050" stroke-width="1.0"><tspan x="1774.56" y="965.83" textLength="9.39" lengthAdjust="spacingAndGlyphs">(</tspan><tspan x="1792.62" y="967.56" font-size="37.11" textLength="13.43" lengthAdjust="spacingAndGlyphs">*</tspan><tspan x="1813.92" y="967.7" textLength="22.67" lengthAdjust="spacingAndGlyphs">N</tspan><tspan x="1842.82" y="967.7" textLength="18.03" lengthAdjust="spacingAndGlyphs">P</tspan><tspan x="1867.26" y="965.82" textLength="9.39" lengthAdjust="spacingAndGlyphs">)</tspan></text>
<text font-size="32.0" fill="#505050" stroke="#505050" stroke-width="1.0"><tspan x="1953.64" y="925.17" font-size="31.78" textLength="22.61" lengthAdjust="spacingAndGlyphs">G</tspan><tspan x="1981.29" y="925.25" textLength="20.18" lengthAdjust="spacingAndGlyphs">A</tspan><tspan x="2006.73" y="925.25" stroke-width="0.3" textLength="30.39" lengthAdjust="spacingAndGlyphs">M</tspan><tspan x="2042.26" y="925.25" stroke-width="0.3" textLength="30.39" lengthAdjust="spacingAndGlyphs">M</tspan><tspan x="2077.92" y="925.25" textLength="20.18" lengthAdjust="spacingAndGlyphs">A</tspan></text>
<text font-size="32.0" fill="#505050" stroke="#505050" stroke-width="1.0"><tspan x="1974.56" y="965.83" textLength="9.39" lengthAdjust="spacingAndGlyphs">(</tspan><tspan x="1992.62" y="967.56" font-size="37.11" textLength="13.43" lengthAdjust="spacingAndGlyphs">*</tspan><tspan x="2013.92" y="967.7" textLength="22.67" lengthAdjust="spacingAndGlyphs">N</tspan><tspan x="2042.82" y="967.7" textLength="18.03" lengthAdjust="spacingAndGlyphs">P</tspan><tspan x="2067.26" y="965.82" textLength="9.39" lengthAdjust="spacingAndGlyphs">)</tspan></text>
<defs><filter id="sh" x="-30%" y="-100%" width="160%" height="300%"><feGaussianBlur in="SourceAlpha" stdDeviation="6"/><feOffset dy="4"/><feComponentTransfer><feFuncA type="linear" slope="0.45"/></feComponentTransfer><feMerge><feMergeNode/><feMergeNode in="SourceGraphic"/></feMerge></filter></defs>
<rect x="1196.8" y="453.3" width="194.5" height="37.3" fill="#cfcfcf" filter="url(#sh)"/>
<rect x="1197.8" y="454.3" width="192.5" height="35.3" fill="#efefef"/>
<rect x="1197.8" y="454.3" width="192.5" height="1" fill="#fafafa"/>
<text x="1201" y="468.5" font-size="13" fill="#111" textLength="183.8" lengthAdjust="spacingAndGlyphs" stroke="#111" stroke-width="0.35">Serie "LIKE" Punto "DELTA (*)"</text>
<text x="1201" y="484.5" font-size="13" fill="#111" textLength="73.0" lengthAdjust="spacingAndGlyphs" stroke="#111" stroke-width="0.35">Valor: 0.000</text>
</svg></body></html>
